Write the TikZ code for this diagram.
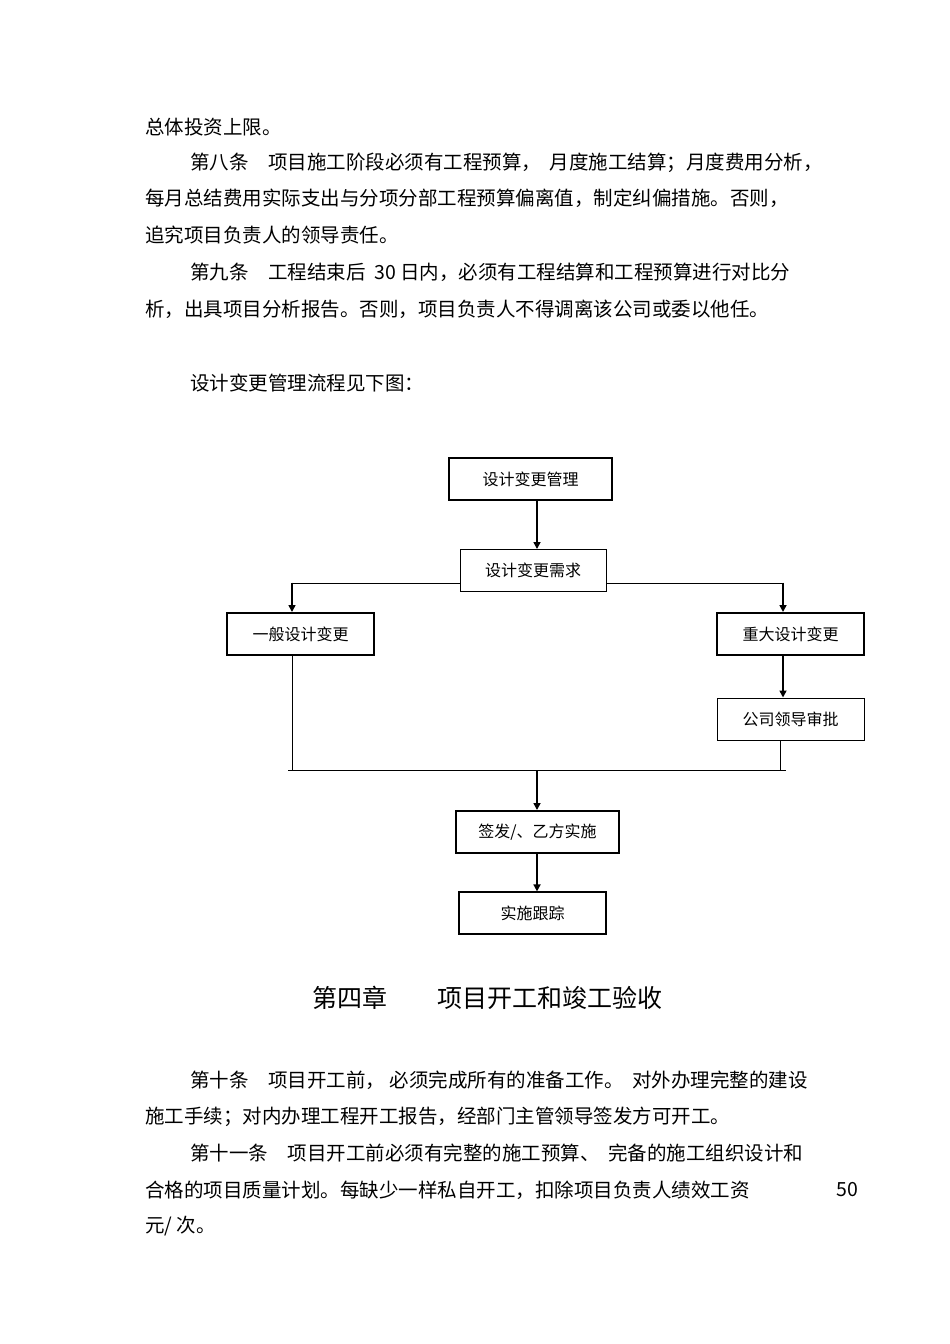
\documentclass[tikz,border=0pt]{standalone}
\usepackage{fontspec}
\setmainfont{Noto Sans CJK SC}
\usetikzlibrary{arrows.meta}
\begin{document}
\begin{tikzpicture}[x=1pt,y=-1pt,
  txt/.style={anchor=west,inner sep=0pt,font=\fontsize{19.5}{19.5}\selectfont},
  box/.style={draw,line width=#1,minimum width=147pt,minimum height=42pt,inner sep=0pt,font=\fontsize{16}{16}\selectfont},
  box/.default=0.8pt,
  ln/.style={line width=0.8pt},
  arr/.style={line width=1.6pt,-{Triangle[length=7pt,width=7pt]}}]
\useasboundingbox[fill=white] (0,0) rectangle (950,1344);
\node[txt] (t1) at (145,127) {总体投资上限。};
\node[txt] (t2) at (190,163) {第八条\quad 项目施工阶段必须有工程预算，\ \ 月度施工结算；月度费用分析，};
\node[txt] (t3) at (145,198) {每月总结费用实际支出与分项分部工程预算偏离值，制定纠偏措施。否则，};
\node[txt] (t4) at (145,235) {追究项目负责人的领导责任。};
\node[txt] (t5) at (190,272) {第九条\quad 工程结束后\ \ 30 日内，必须有工程结算和工程预算进行对比分};
\node[txt] (t6) at (145,309) {析，出具项目分析报告。否则，项目负责人不得调离该公司或委以他任。};
\node[txt] (t7) at (190,383) {设计变更管理流程见下图：};

\node[box=2pt,minimum width=163pt] (a) at (530.5,479) {设计变更管理};
\node[box=1pt,minimum width=146pt] (b) at (533,570.5) {设计变更需求};
\node[box=2pt] (c) at (300.5,634) {一般设计变更};
\node[box=2pt] (d) at (790.5,634) {重大设计变更};
\node[box=1pt] (e) at (790.5,719) {公司领导审批};
\node[box=2pt,minimum width=163pt] (f) at (537.5,832) {签发/、乙方实施};
\node[box=1.2pt] (g) at (532.5,913) {实施跟踪};
\coordinate (m) at (537,770);
\draw[arr] (a.south-|m) -- (b.north-|m);
\draw[ln] (b.west|-0,583) -- (292,583);
\draw[arr] (292,582.6) -- (c.north-|292,0);
\draw[ln] (b.east|-0,583) -- (783,583);
\draw[arr] (783,582.6) -- (d.north-|783,0);
\draw[arr] (d.south-|783,0) -- (e.north-|783,0);
\draw[ln] (c.south-|292,0) -- (292,770);
\draw[ln] (e.south-|780,0) -- (780,770);
\draw[ln] (288,770) -- (786,770);
\draw[arr] (m) -- (f.north-|m);
\draw[arr] (f.south-|m) -- (g.north-|m);

\node[inner sep=0pt,font=\fontsize{25}{25}\selectfont] (h) at (487,998) {第四章\qquad 项目开工和竣工验收};

\node[txt] (u1) at (190,1080) {第十条\quad 项目开工前，\ 必须完成所有的准备工作。\ \ 对外办理完整的建设};
\node[txt] (u2) at (145,1117) {施工手续；对内办理工程开工报告，经部门主管领导签发方可开工。};
\node[txt] (u3) at (190,1153) {第十一条\quad 项目开工前必须有完整的施工预算、\ \ 完备的施工组织设计和};
\node[txt] (u4) at (145,1190) {合格的项目质量计划。每缺少一样私自开工，扣除项目负责人绩效工资};
\node[txt] (u5) at (836,1190) {50};
\node[txt] (u6) at (145,1226) {元/ 次。};
\end{tikzpicture}
\end{document}
